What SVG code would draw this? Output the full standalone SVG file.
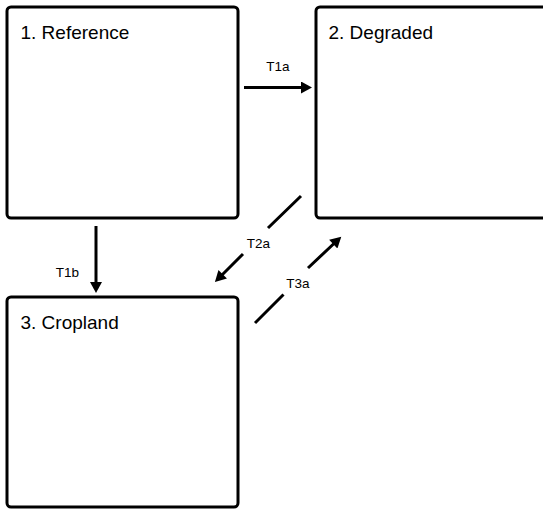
<svg xmlns="http://www.w3.org/2000/svg" width="543" height="509" viewBox="0 0 543 509">
<style>
.box{fill:#fff;stroke:#000;stroke-width:3}
.title{font-family:"Liberation Sans",Arial,sans-serif;font-size:19px;fill:#000}
.lbl{font-family:"Liberation Sans",Arial,sans-serif;font-size:13.5px;fill:#000;text-anchor:middle}
.edge{fill:none;stroke:#000;stroke-width:3;marker-end:url(#ah)}
</style>
<defs>
<marker id="ah" markerUnits="userSpaceOnUse" markerWidth="12" markerHeight="12" viewBox="0 0 11 12" refX="1" refY="6" orient="auto">
<path d="M0,0 L11,6 L0,12 z" fill="#000"/>
</marker>
</defs>
<rect width="543" height="509" fill="#fff"/>
<g id="node-reference">
<rect class="box" x="7" y="7" width="231" height="211" rx="4"/>
<text class="title" x="20.5" y="39">1. Reference</text>
</g>
<g id="node-degraded">
<rect class="box" x="316" y="7" width="240" height="211" rx="4"/>
<text class="title" x="328.5" y="39">2. Degraded</text>
</g>
<g id="node-cropland">
<rect class="box" x="7" y="297" width="231" height="210" rx="4"/>
<text class="title" x="20.5" y="329">3. Cropland</text>
</g>
<g id="connectors">
<path class="edge" d="M244,87.5 L302,87.5"/>
<text class="lbl" x="278" y="70.5">T1a</text>
<path class="edge" d="M96,226 L96,283"/>
<text class="lbl" x="67.5" y="276.5">T1b</text>
<path class="edge" d="M301,196 L268,228 M243,254 L222,275"/>
<text class="lbl" x="258.5" y="247.5">T2a</text>
<path class="edge" d="M255,323 L283.5,294.5 M308,268 L334,243.5"/>
<text class="lbl" x="298" y="288">T3a</text>
</g>
</svg>
